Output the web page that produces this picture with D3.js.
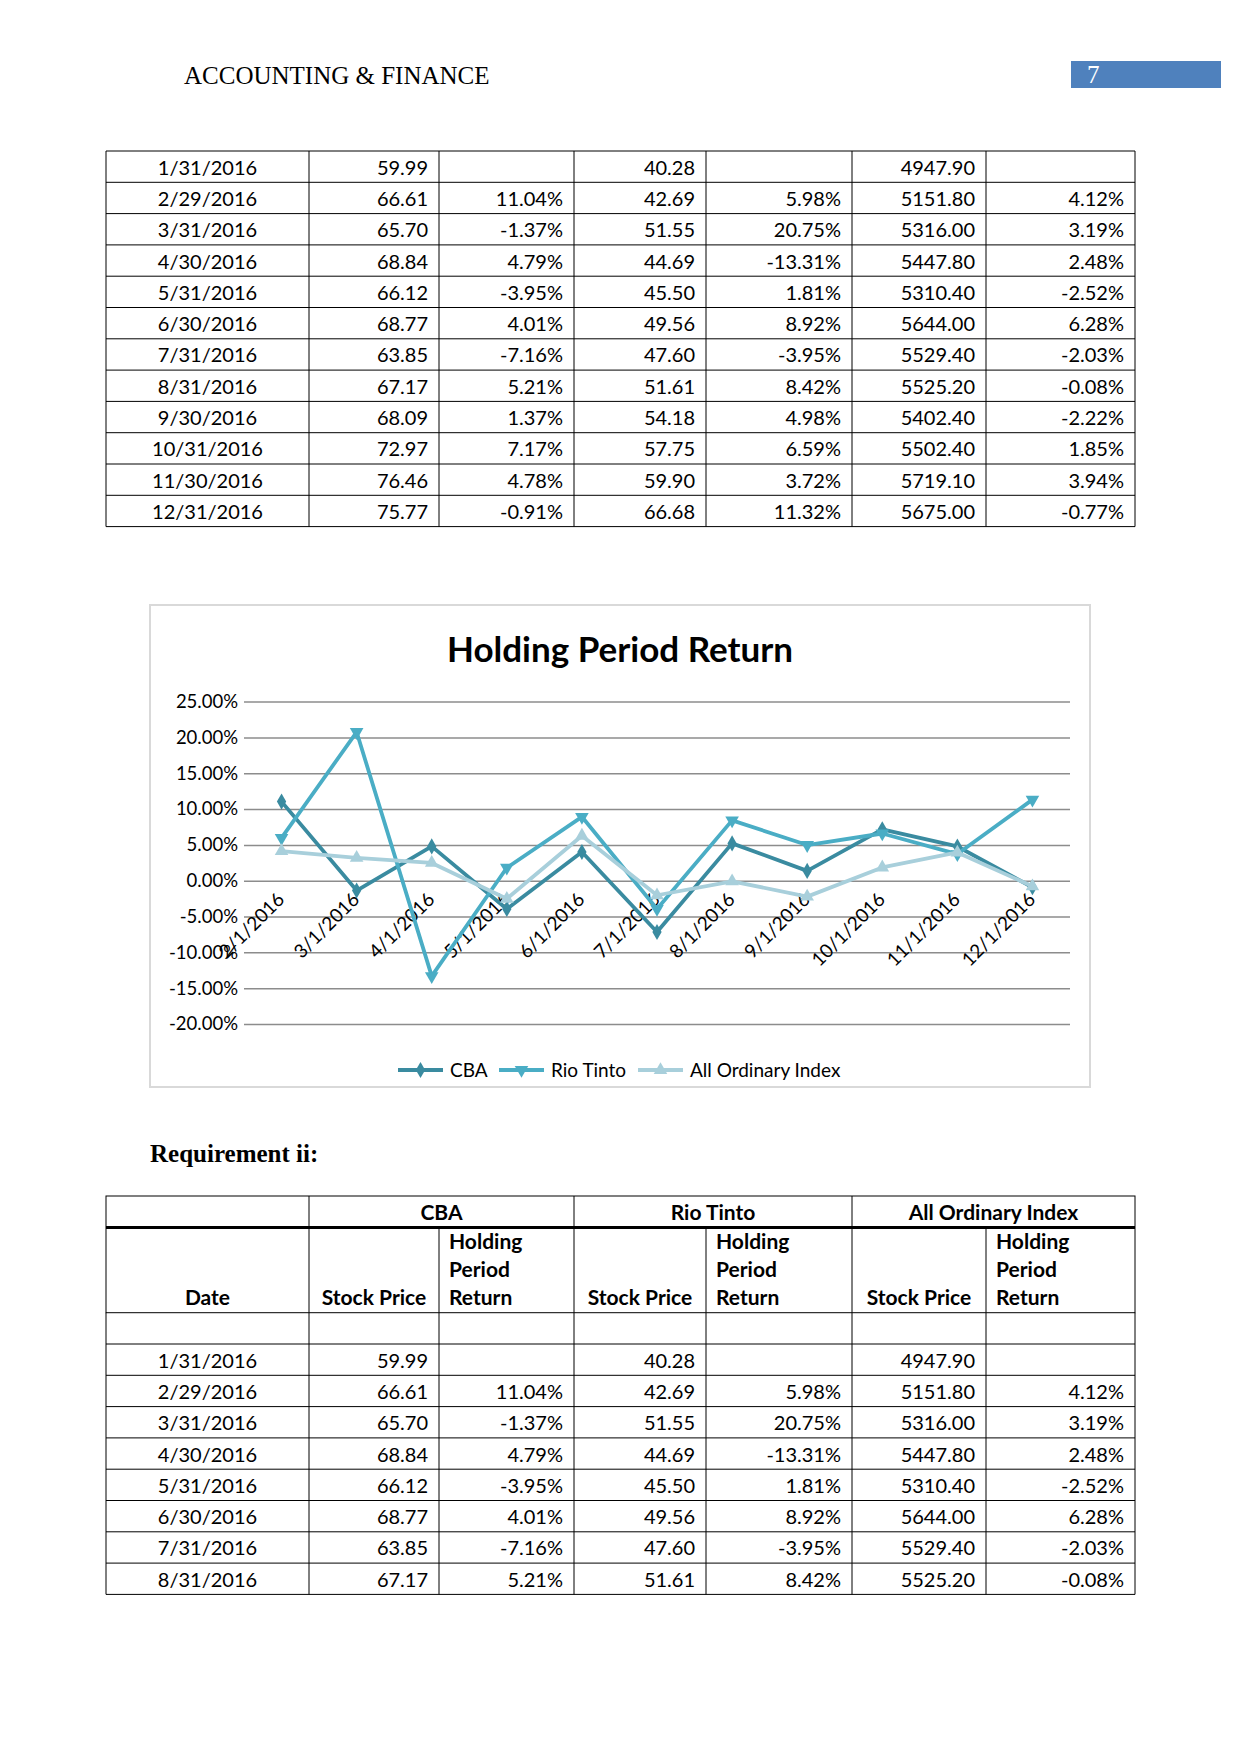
<!DOCTYPE html>
<html>
<head>
<meta charset="utf-8">
<script src="https://cdn.jsdelivr.net/npm/d3@7"></script>
<style>
  body { margin: 0; background: #fff; }
  svg { display: block; }
</style>
</head>
<body>
<div class="page"></div>
<script>
// table data
const dates = ["1/31/2016", "2/29/2016", "3/31/2016", "4/30/2016", "5/31/2016", "6/30/2016",
    "7/31/2016", "8/31/2016", "9/30/2016", "10/31/2016", "11/30/2016", "12/31/2016"];
const cbaPrice = [59.99, 66.61, 65.70, 68.84, 66.12, 68.77, 63.85, 67.17, 68.09, 72.97, 76.46, 75.77];
const cbaReturn = [null, 11.04, -1.37, 4.79, -3.95, 4.01, -7.16, 5.21, 1.37, 7.17, 4.78, -0.91];
const rioPrice = [40.28, 42.69, 51.55, 44.69, 45.50, 49.56, 47.60, 51.61, 54.18, 57.75, 59.90, 66.68];
const rioReturn = [null, 5.98, 20.75, -13.31, 1.81, 8.92, -3.95, 8.42, 4.98, 6.59, 3.72, 11.32];
const aoiPrice = [4947.90, 5151.80, 5316.00, 5447.80, 5310.40, 5644.00, 5529.40, 5525.20, 5402.40, 5502.40, 5719.10, 5675.00];
const aoiReturn = [null, 4.12, 3.19, 2.48, -2.52, 6.28, -2.03, -0.08, -2.22, 1.85, 3.94, -0.77];

// chart categories / ticks
const months = ["2/1/2016", "3/1/2016", "4/1/2016", "5/1/2016", "6/1/2016", "7/1/2016",
    "8/1/2016", "9/1/2016", "10/1/2016", "11/1/2016", "12/1/2016"];
const yTickValues = [-0.20, -0.15, -0.10, -0.05, 0, 0.05, 0.10, 0.15, 0.20, 0.25];
const seriesNames = ["CBA", "Rio Tinto", "All Ordinary Index"];

const width = 1241, height = 1754;
const svg = d3.select(".page").append("svg")
    .attr("width", width)
    .attr("height", height)
    .style("background", "#fff");

// page header
svg.append("text")
    .attr("x", 184).attr("y", 84)
    .style("font-family", "Liberation Serif")
    .style("font-size", "25px")
    .text("ACCOUNTING & FINANCE");
svg.append("rect")
    .attr("x", 1071).attr("y", 61).attr("width", 150).attr("height", 27)
    .attr("fill", "#4f81bd");
svg.append("text")
    .attr("x", 1087).attr("y", 83)
    .attr("fill", "#fff")
    .style("font-family", "Liberation Serif")
    .style("font-size", "25px")
    .text("7");

// table helpers
const colX = [106, 309, 439, 574, 706, 852, 986, 1135];
const rowH = 31.3;
const num = d3.format(".2f");
const pct = (v) => v == null ? "" : v.toFixed(2) + "%";

function rowCells(i) {
    return [dates[i], num(cbaPrice[i]), pct(cbaReturn[i]), num(rioPrice[i]), pct(rioReturn[i]),
        num(aoiPrice[i]), pct(aoiReturn[i])];
}

function drawBody(g, top, n) {
    const rows = d3.range(n).map(rowCells);
    const bottom = top + n * rowH;
    // horizontal rules
    g.selectAll("line.h")
        .data(d3.range(n + 1))
        .enter().append("line")
        .attr("x1", colX[0]).attr("x2", colX[7])
        .attr("y1", (d) => top + d * rowH).attr("y2", (d) => top + d * rowH)
        .attr("stroke", "#000").attr("stroke-width", 1);
    g.selectAll("line.v")
        .data(colX)
        .enter().append("line")
        .attr("x1", (d) => d).attr("x2", (d) => d)
        .attr("y1", top).attr("y2", bottom)
        .attr("stroke", "#000").attr("stroke-width", 1);
    const rg = g.selectAll("g.row")
        .data(rows)
        .enter().append("g")
        .attr("transform", (d, i) => "translate(0," + (top + i * rowH + rowH / 2 + 8) + ")");
    rg.selectAll("text")
        .data((d) => d)
        .enter().append("text")
        .attr("x", (d, j) => j == 0 ? (colX[0] + colX[1]) / 2 : colX[j + 1] - 11)
        .attr("text-anchor", (d, j) => j == 0 ? "middle" : "end")
        .style("font-family", "Lato")
        .style("font-size", "20px")
        .text((d) => d);
}

// first table (all 12 months)
drawBody(svg.append("g"), 151, 12);

// chart
const chart = svg.append("g");
chart.append("rect")
    .attr("x", 150).attr("y", 605).attr("width", 940).attr("height", 482)
    .attr("fill", "#fff").attr("stroke", "#d9d9d9").attr("stroke-width", 2);
chart.append("text")
    .attr("x", 620).attr("y", 662)
    .attr("text-anchor", "middle")
    .style("font-family", "Lato")
    .style("font-weight", "bold")
    .style("font-size", "35px")
    .text("Holding Period Return");

const xScale = d3.scaleBand().domain(months).range([244, 1070]);
const xPos = (m) => xScale(m) + xScale.bandwidth() / 2;
const yScale = d3.scaleLinear().domain([-0.20, 0.25]).range([1024, 701.6]);
const fmtPct = (v) => d3.format(".2%")(v).replace("\u2212", "-");

const yAxis = d3.axisLeft(yScale)
    .tickValues(yTickValues)
    .tickSize(-(1070 - 244))
    .tickPadding(6)
    .tickFormat(fmtPct);
const yg = chart.append("g")
    .attr("transform", "translate(244,0)")
    .call(yAxis);
yg.select(".domain").remove();
yg.selectAll(".tick line").attr("stroke", "#8c8c8c").attr("stroke-width", 1.5);
yg.selectAll(".tick text")
    .attr("fill", "#000")
    .style("font-family", "Lato")
    .style("font-size", "18.5px");

const xAxis = d3.axisBottom(xScale).tickSize(0).tickPadding(0);
const xg = chart.append("g")
    .attr("transform", "translate(0," + yScale(0) + ")")
    .call(xAxis);
xg.select(".domain").remove();
xg.selectAll(".tick text")
    .attr("fill", "#000")
    .attr("text-anchor", "end")
    .attr("dy", 0)
    .attr("transform", "translate(4,20) rotate(-45)")
    .attr("y", 0)
    .style("font-family", "Lato")
    .style("font-size", "19px");

const colors = ["#3a8ba0", "#4aadc5", "#a8cfdb"];
const returnsList = [cbaReturn, rioReturn, aoiReturn];
const symbols = [
    { type: d3.symbolDiamond, size: 75, rot: 0 },
    { type: d3.symbolTriangle, size: 80, rot: 180 },
    { type: d3.symbolTriangle, size: 80, rot: 0 }
];

const line = d3.line()
    .x((d) => xPos(d.month))
    .y((d) => yScale(d.value / 100));

returnsList.forEach((ret, s) => {
    const pts = months.map((m, i) => ({ month: m, value: ret[i + 1] }));
    chart.append("path")
        .datum(pts)
        .attr("d", line)
        .attr("fill", "none")
        .attr("stroke", colors[s])
        .attr("stroke-width", 3.8)
        .attr("stroke-linejoin", "round");
    chart.selectAll("path.mk" + s)
        .data(pts)
        .enter().append("path")
        .attr("class", "mk" + s)
        .attr("d", d3.symbol().type(symbols[s].type).size(symbols[s].size))
        .attr("transform", (d) => "translate(" + xPos(d.month) + "," + yScale(d.value / 100) + ") rotate(" + symbols[s].rot + ")")
        .attr("fill", colors[s]);
});

// legend
const legendX = [398, 499, 638];
const lg = chart.selectAll("g.legend")
    .data(seriesNames)
    .enter().append("g")
    .attr("transform", (d, i) => "translate(" + legendX[i] + ",1070)");
lg.append("line")
    .attr("x1", 0).attr("x2", 45)
    .attr("stroke", (d, i) => colors[i])
    .attr("stroke-width", 3.8);
lg.append("path")
    .attr("d", (d, i) => d3.symbol().type(symbols[i].type).size(symbols[i].size)())
    .attr("transform", (d, i) => "translate(22.5,0) rotate(" + symbols[i].rot + ")")
    .attr("fill", (d, i) => colors[i]);
lg.append("text")
    .attr("x", 52).attr("y", 6.5)
    .style("font-family", "Lato")
    .style("font-size", "19px")
    .text((d) => d);

// requirement heading
svg.append("text")
    .attr("x", 150).attr("y", 1162)
    .style("font-family", "Liberation Serif")
    .style("font-weight", "bold")
    .style("font-size", "25px")
    .text("Requirement ii:");

// second table header
const t2 = svg.append("g");
const hTop = 1196, h1 = 1227.6, h2 = 1312.7;
t2.append("rect")
    .attr("x", colX[0]).attr("y", hTop).attr("width", colX[7] - colX[0]).attr("height", h2 - hTop)
    .attr("fill", "none").attr("stroke", "#000").attr("stroke-width", 1);
t2.append("line")
    .attr("x1", colX[0]).attr("x2", colX[7]).attr("y1", h1).attr("y2", h1)
    .attr("stroke", "#000").attr("stroke-width", 3);
// group separators on the first header row, every column on the second
t2.selectAll("line.g1")
    .data([colX[1], colX[3], colX[5]])
    .enter().append("line")
    .attr("x1", (d) => d).attr("x2", (d) => d).attr("y1", hTop).attr("y2", h1)
    .attr("stroke", "#000");
t2.selectAll("line.g2")
    .data(colX.slice(1, 7))
    .enter().append("line")
    .attr("x1", (d) => d).attr("x2", (d) => d).attr("y1", h1).attr("y2", h2)
    .attr("stroke", "#000");
const groupTitles = [
    { name: "CBA", a: 1, b: 3 },
    { name: "Rio Tinto", a: 3, b: 5 },
    { name: "All Ordinary Index", a: 5, b: 7 }
];
const bold = (sel) => sel.style("font-family", "Lato").style("font-weight", "bold").style("font-size", "21px");
t2.selectAll("text.grp")
    .data(groupTitles)
    .enter().append("text")
    .attr("x", (d) => (colX[d.a] + colX[d.b]) / 2)
    .attr("y", hTop + 24)
    .attr("text-anchor", "middle")
    .call(bold)
    .text((d) => d.name);
const subHeads = ["Date", "Stock Price", "Holding Period Return", "Stock Price", "Holding Period Return",
    "Stock Price", "Holding Period Return"];
subHeads.forEach((h, j) => {
    if (h == "Holding Period Return") {
        h.split(" ").forEach((w, k) => {
            t2.append("text")
                .attr("x", colX[j] + 10)
                .attr("y", h1 + 21 + k * 28)
                .call(bold)
                .text(w);
        });
    } else {
        t2.append("text")
            .attr("x", (colX[j] + colX[j + 1]) / 2)
            .attr("y", h1 + 77)
            .attr("text-anchor", "middle")
            .call(bold)
            .text(h);
    }
});
// empty spacer row
t2.selectAll("line.sp")
    .data(colX)
    .enter().append("line")
    .attr("x1", (d) => d).attr("x2", (d) => d).attr("y1", h2).attr("y2", h2 + rowH)
    .attr("stroke", "#000");
drawBody(t2.append("g"), h2 + rowH, 8);
</script>
</body>
</html>
